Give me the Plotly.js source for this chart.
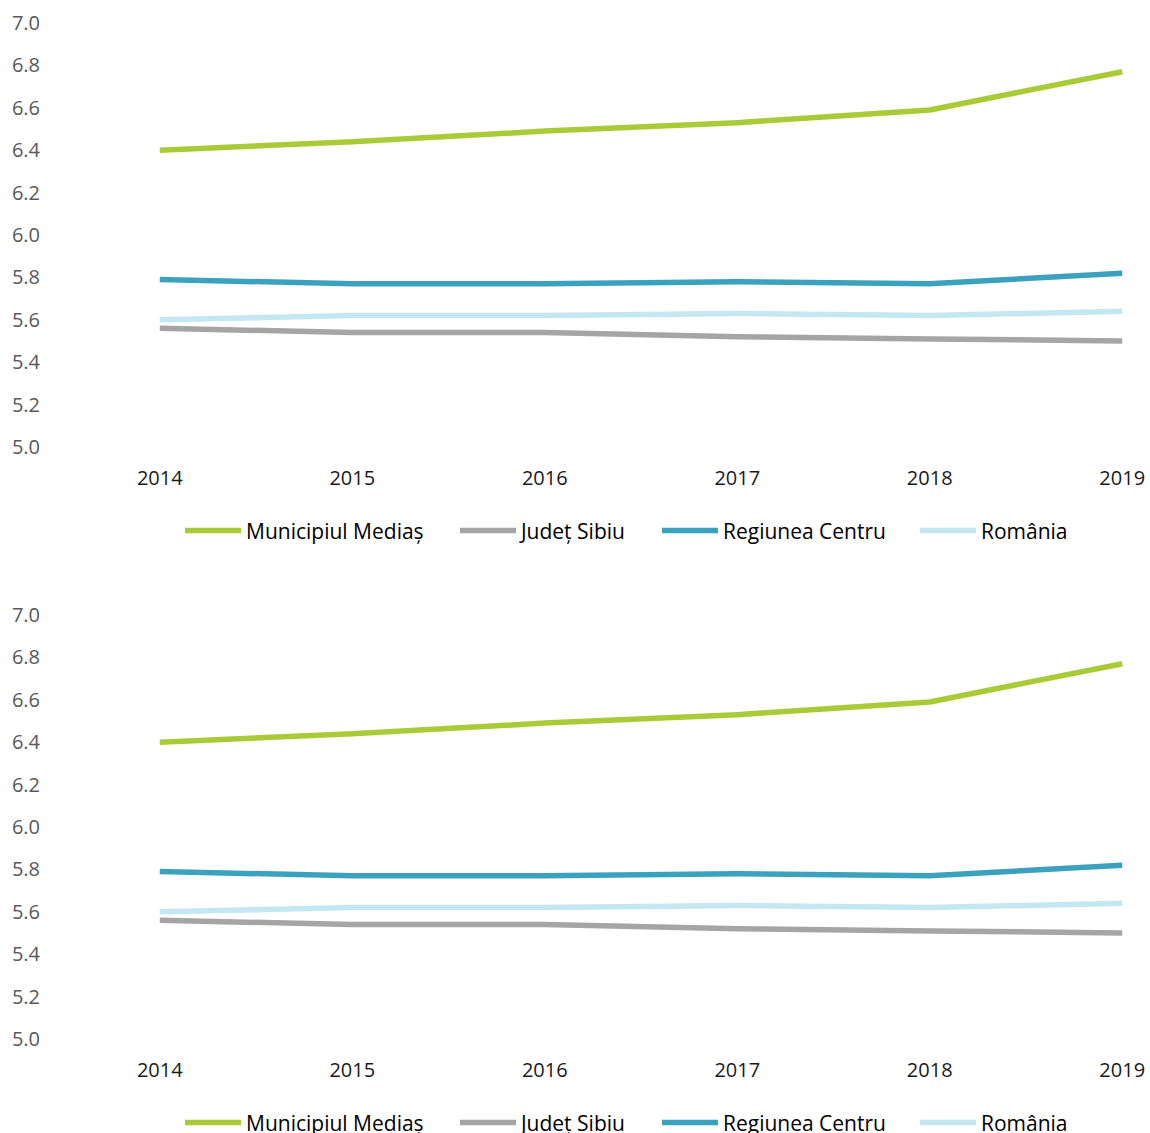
<!DOCTYPE html>
<html>
<head>
<meta charset="utf-8">
<script src="https://cdn.plot.ly/plotly-3.0.1.min.js"></script>
<style>
  html, body { margin: 0; padding: 0; background: #ffffff; overflow: hidden; }
  .chart { width: 1150px; height: 592px; }
</style>
</head>
<body>
<div id="chart1" class="chart"></div>
<div id="chart2" class="chart"></div>
<script>
// ---- data ----
const years = [2014, 2015, 2016, 2017, 2018, 2019];
const seriesNames = ["Municipiul Mediaș", "Județ Sibiu", "Regiunea Centru", "România"];
const mediasVals  = [6.40, 6.44, 6.49, 6.53, 6.59, 6.77];
const sibiuVals   = [5.56, 5.54, 5.54, 5.52, 5.51, 5.50];
const centruVals  = [5.79, 5.77, 5.77, 5.78, 5.77, 5.82];
const romaniaVals = [5.60, 5.62, 5.62, 5.63, 5.62, 5.64];
const yTickVals = [5.0, 5.2, 5.4, 5.6, 5.8, 6.0, 6.2, 6.4, 6.6, 6.8, 7.0];
const yTickText = ["5.0", "5.2", "5.4", "5.6", "5.8", "6.0", "6.2", "6.4", "6.6", "6.8", "7.0"];

const seriesVals = [mediasVals, sibiuVals, centruVals, romaniaVals];
const colors = ["#A9CB37", "#A5A5A5", "#3AA1BE", "#C3E8F1"];
const legendIds = ["legend", "legend2", "legend3", "legend4"];
const legendX = [0.0267, 0.309, 0.5164, 0.7813];

function makeTraces() {
  return seriesNames.map((name, i) => ({
    type: "scatter",
    mode: "lines",
    name: name,
    legend: legendIds[i],
    x: years,
    y: seriesVals[i],
    line: { color: colors[i], width: 5.5 },
    hoverinfo: "x+y+name"
  }));
}

function makeLegend(i) {
  return {
    orientation: "h",
    x: legendX[i],
    xanchor: "left",
    y: -0.198,
    yanchor: "middle",
    itemwidth: 56,
    bgcolor: "rgba(0,0,0,0)",
    font: { family: "Open Sans, sans-serif", size: 21, color: "#000000" }
  };
}

function makeLayout() {
  const layout = {
    width: 1150,
    height: 592,
    margin: { l: 154, r: 22, t: 23, b: 145 },
    paper_bgcolor: "#ffffff",
    plot_bgcolor: "#ffffff",
    font: { family: "Open Sans, sans-serif", size: 20, color: "#000000" },
    showlegend: true,
    xaxis: {
      range: [2013.97, 2019.03],
      tickvals: years,
      ticktext: years.map(String),
      showgrid: false,
      zeroline: false,
      showline: false,
      ticks: "",
      tickfont: { family: "Open Sans, sans-serif", size: 20, color: "#1a1a1a" },
      ticklabelstandoff: 17
    },
    yaxis: {
      range: [5.0, 7.0],
      tickvals: yTickVals,
      ticktext: yTickText,
      showgrid: false,
      zeroline: false,
      showline: false,
      ticks: "",
      tickfont: { family: "Open Sans, sans-serif", size: 20, color: "#595959" },
      ticklabelstandoff: 113
    }
  };
  legendIds.forEach((id, i) => { layout[id] = makeLegend(i); });
  return layout;
}

Plotly.newPlot("chart1", makeTraces(), makeLayout(), { displayModeBar: false, staticPlot: true });
Plotly.newPlot("chart2", makeTraces(), makeLayout(), { displayModeBar: false, staticPlot: true });
</script>
</body>
</html>
